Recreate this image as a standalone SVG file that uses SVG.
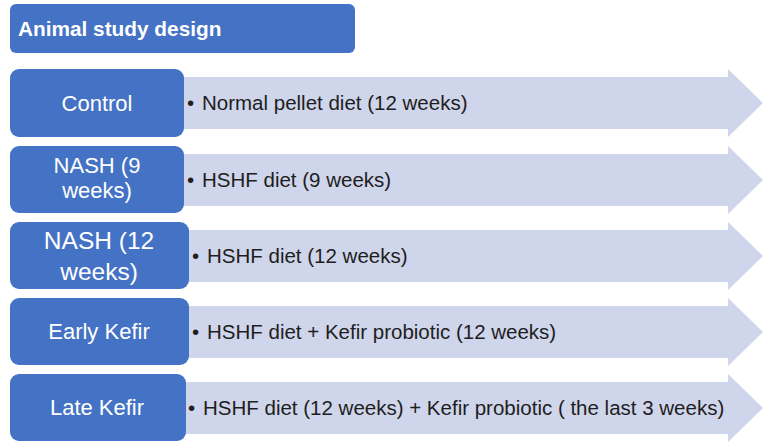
<svg xmlns="http://www.w3.org/2000/svg" width="767" height="446" viewBox="0 0 767 446">
<style>
.box{fill:#4472C4}
.arr{fill:#CFD5EA}
.lbl{font-family:"Liberation Sans",Arial,sans-serif;font-size:22px;fill:#ffffff;text-anchor:middle}
.txt{font-family:"Liberation Sans",Arial,sans-serif;font-size:20.5px;fill:#1e1e1e}
.ttl{font-family:"Liberation Sans",Arial,sans-serif;font-size:20.8px;font-weight:bold;fill:#ffffff}
</style>
<rect width="767" height="446" fill="#ffffff"/>
<g id="title">
<rect x="10" y="4" width="345" height="49" rx="6" class="box"/>
<text x="18" y="36" class="ttl">Animal study design</text>
</g>
<g id="arrows">
<path class="arr" d="M180 77 H728 V69 L763 103 L728 137 V129 H180 Z"/>
<path class="arr" d="M180 154 H728 V146 L763 180 L728 214 V206 H180 Z"/>
<path class="arr" d="M180 230 H728 V222 L763 256 L728 290 V282 H180 Z"/>
<path class="arr" d="M180 306 H728 V298 L763 332 L728 366 V358 H180 Z"/>
<path class="arr" d="M180 382 H728 V374 L763 408 L728 442 V434 H180 Z"/>
</g>
<g id="control">
<rect x="10" y="69" width="174" height="68" rx="9" class="box"/>
<text x="97" y="111" class="lbl">Control</text>
<text x="187" y="110" class="txt">•</text>
<text x="202" y="110" class="txt">Normal pellet diet (12 weeks)</text>
</g>
<g id="nash9">
<rect x="10" y="146" width="174" height="67" rx="9" class="box"/>
<text x="97" y="173" class="lbl">NASH (9</text>
<text x="97" y="198" class="lbl">weeks)</text>
<text x="187" y="187" class="txt">•</text>
<text x="202" y="187" class="txt">HSHF diet (9 weeks)</text>
</g>
<g id="nash12">
<rect x="10" y="222" width="179" height="67" rx="9" class="box"/>
<text x="99" y="249" class="lbl" style="font-size:24.5px">NASH (12</text>
<text x="99" y="280" class="lbl" style="font-size:24.5px">weeks)</text>
<text x="192" y="263" class="txt">•</text>
<text x="207" y="263" class="txt">HSHF diet (12 weeks)</text>
</g>
<g id="earlykefir">
<rect x="10" y="298" width="179" height="67" rx="9" class="box"/>
<text x="99" y="339" class="lbl">Early Kefir</text>
<text x="192" y="339" class="txt">•</text>
<text x="207" y="339" class="txt">HSHF diet + Kefir probiotic (12 weeks)</text>
</g>
<g id="latekefir">
<rect x="10" y="374" width="176" height="67" rx="9" class="box"/>
<text x="97" y="415" class="lbl">Late Kefir</text>
<text x="188" y="415" class="txt">•</text>
<text x="203" y="415" class="txt">HSHF diet (12 weeks) + Kefir probiotic ( the last 3 weeks)</text>
</g>
</svg>
